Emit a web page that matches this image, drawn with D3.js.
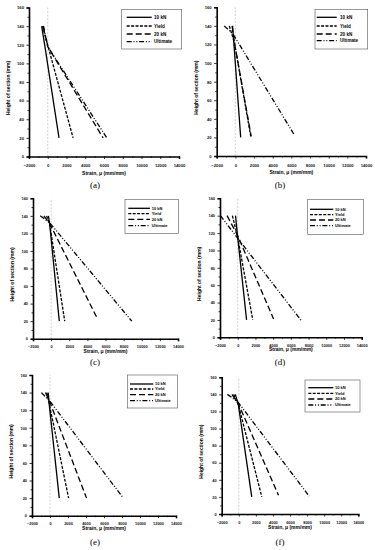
<!DOCTYPE html>
<html><head><meta charset="utf-8">
<script src="https://cdn.jsdelivr.net/npm/d3@7"></script>
<style>html,body{margin:0;padding:0;background:#fff;}svg{display:block;}</style>
</head><body>
<svg id="chart" width="375" height="550"></svg>
<script>
// ---------- data ----------
const seriesNames = ["10 kN", "Yield", "20 kN", "Ultimate"];
const panelLabels = ["(a)", "(b)", "(c)", "(d)", "(e)", "(f)"];
const xTicks = [-2000, 0, 2000, 4000, 6000, 8000, 10000, 12000, 14000];
const yTicks = [0, 20, 40, 60, 80, 100, 120, 140, 160];
// each series: [strain (με), height (mm)] points
const dataA = [
  [[-650, 140], [-300, 118], [1200, 20]],
  [[-550, 140], [-150, 125], [2700, 20]],
  [[-500, 140], [0, 118], [5900, 20]],
  [[-450, 140], [0, 118], [6300, 20]]
];
const dataB = [
  [[-300, 140], [-150, 120], [570, 20]],
  [[-650, 140], [-100, 122], [1650, 21]],
  [[-350, 140], [-100, 122], [1700, 21]],
  [[-1200, 140], [-300, 132], [6300, 23]]
];
const dataC = [
  [[-300, 140], [-150, 130], [900, 20]],
  [[-500, 140], [-150, 130], [1500, 20]],
  [[-800, 140], [-150, 131], [5100, 23]],
  [[-1200, 140], [-150, 132], [8900, 20]]
];
const dataD = [
  [[-250, 140], [0, 115], [1000, 20]],
  [[-600, 140], [0, 115], [1700, 20]],
  [[-1200, 140], [0, 117], [4050, 21]],
  [[-1950, 140], [0, 114], [7200, 19]]
];
const dataE = [
  [[-200, 140], [-100, 128], [1030, 20]],
  [[-350, 140], [-100, 128], [2070, 20]],
  [[-500, 140], [-50, 130], [4060, 20]],
  [[-950, 140], [0, 130], [8150, 20]]
];
const dataF = [
  [[-400, 140], [-50, 128], [1520, 20]],
  [[-600, 140], [-50, 128], [2700, 20]],
  [[-800, 140], [-50, 129], [4650, 22]],
  [[-1330, 140], [-100, 131], [8240, 21]]
];
const panelData = [dataA, dataB, dataC, dataD, dataE, dataF];

// ---------- layout ----------
const layouts = [
  {x0: 29, x1: 179, yb: 156.5, yt: 7.5, pad: 5.5, tfs: 4.2, ttl: 18, lg: {l: 121.7, t: 9.3, r: 181.7, b: 49, rows: [17.3, 26, 34, 41.7], ls: 126.7, le: 151.7, tx: 154, fs: 4.6}, cap: [95, 188]},
  {x0: 216.7, x1: 366, yb: 156, yt: 7.3, pad: 5.5, tfs: 4.2, ttl: 18, lg: {l: 315, t: 9.3, r: 367.7, b: 49, rows: [17.3, 26, 34, 40.7], ls: 316.7, le: 336.7, tx: 340, fs: 4.6}, cap: [280, 188]},
  {x0: 33, x1: 178, yb: 338.7, yt: 198.3, pad: 4, tfs: 3.9, ttl: 14, lg: {l: 125, t: 199.3, r: 178.3, b: 233.3, rows: [208.3, 213.7, 219.3, 225.7], ls: 128.3, le: 150, tx: 151.7, fs: 4.0}, cap: [95, 365]},
  {x0: 220, x1: 361.7, yb: 337.3, yt: 198.3, pad: 4, tfs: 3.9, ttl: 14, lg: {l: 307.7, t: 199.3, r: 363.3, b: 234.3, rows: [209.3, 214.7, 220, 225.7], ls: 310, le: 333.3, tx: 335, fs: 4.0}, cap: [280, 365]},
  {x0: 32, x1: 176, yb: 515.7, yt: 375, pad: 4.3, tfs: 3.9, ttl: 14.5, lg: {l: 127.3, t: 375, r: 177.3, b: 408, rows: [384, 389, 394.7, 400.7], ls: 130, le: 153.3, tx: 155, fs: 4.0}, cap: [95, 545]},
  {x0: 221.7, x1: 358.3, yb: 514, yt: 377.3, pad: 4.3, tfs: 3.9, ttl: 15, lg: {l: 305, t: 380, r: 360, b: 412, rows: [387.7, 393.3, 399, 405], ls: 308.3, le: 333.3, tx: 335, fs: 4.0}, cap: [280, 545]}
];
const dashes = [null, "3,1.4", "6,3", "5,1.8,1,1.8,1,1.8"];
const font = "'Liberation Sans', Arial, sans-serif";

const svg = d3.select("#chart");

panelData.forEach((data, i) => {
  const L = layouts[i];
  const x = d3.scaleLinear().domain([-2000, 14000]).range([L.x0, L.x1]);
  const y = d3.scaleLinear().domain([0, 160]).range([L.yb, L.yt]);
  const g = svg.append("g");

  // zero reference line
  g.append("line")
    .attr("x1", x(0)).attr("x2", x(0)).attr("y1", y(0)).attr("y2", y(160))
    .attr("stroke", "#bdbdbd").attr("stroke-width", 0.7).attr("stroke-dasharray", "2,1.5");

  const xMinor = d3.range(-2000, 14001, 1000).filter(v => v % 2000 !== 0);
  const yMinor = d3.range(10, 160, 20);

  const xAxis = d3.axisBottom(x).tickValues(xTicks).tickSize(2.5).tickPadding(L.pad).tickFormat(d3.format("d"));
  const yAxis = d3.axisLeft(y).tickValues(yTicks).tickSize(2.5).tickPadding(2.5).tickFormat(d3.format("d"));

  const gx = g.append("g").attr("transform", `translate(0,${L.yb})`).call(xAxis);
  const gy = g.append("g").attr("transform", `translate(${L.x0},0)`).call(yAxis);
  g.append("g").attr("transform", `translate(0,${L.yb})`)
    .call(d3.axisBottom(x).tickValues(xMinor).tickSize(1.5).tickFormat(""))
    .select(".domain").remove();
  g.append("g").attr("transform", `translate(${L.x0},0)`)
    .call(d3.axisLeft(y).tickValues(yMinor).tickSize(1.5).tickFormat(""))
    .select(".domain").remove();

  g.selectAll(".domain").attr("stroke", "#000").attr("stroke-width", 1.6);
  g.selectAll(".tick line").attr("stroke", "#000").attr("stroke-width", 0.8);
  [gx, gy].forEach(a => a.selectAll("text")
    .attr("font-family", font).attr("font-size", L.tfs).attr("font-weight", "bold").attr("fill", "#111"));

  // axis titles
  g.append("text")
    .attr("x", (L.x0 + L.x1) / 2).attr("y", L.yb + L.ttl)
    .attr("text-anchor", "middle").attr("font-family", font).attr("font-size", 5).attr("font-weight", "bold")
    .text("Strain, μ (mm/mm)");
  g.append("text")
    .attr("transform", `translate(${L.x0 - 19},${(L.yb + L.yt) / 2 + 6}) rotate(-90)`)
    .attr("text-anchor", "middle").attr("font-family", font).attr("font-size", 5).attr("font-weight", "bold")
    .text("Height of section (mm)");

  // series lines
  const line = d3.line().x(d => x(d[0])).y(d => y(d[1]));
  data.forEach((s, k) => {
    g.append("path").datum(s)
      .attr("d", line).attr("fill", "none").attr("stroke", "#000")
      .attr("stroke-width", 1.3)
      .attr("stroke-dasharray", dashes[k]);
  });

  // legend
  const lg = L.lg;
  g.append("rect").attr("x", lg.l).attr("y", lg.t).attr("width", lg.r - lg.l).attr("height", lg.b - lg.t)
    .attr("fill", "#fff").attr("stroke", "#555").attr("stroke-width", 0.6);
  seriesNames.forEach((name, k) => {
    g.append("line").attr("x1", lg.ls).attr("x2", lg.le).attr("y1", lg.rows[k]).attr("y2", lg.rows[k])
      .attr("stroke", "#000").attr("stroke-width", 1.3).attr("stroke-dasharray", dashes[k]);
    g.append("text").attr("x", lg.tx).attr("y", lg.rows[k]).attr("dy", "0.35em")
      .attr("font-family", font).attr("font-size", lg.fs).attr("font-weight", "bold").text(name);
  });

  // caption
  svg.append("text").attr("x", L.cap[0]).attr("y", L.cap[1])
    .attr("text-anchor", "middle").attr("font-family", "'Liberation Serif', 'Times New Roman', serif")
    .attr("font-size", 9).text(panelLabels[i]);
});
</script>
</body></html>
